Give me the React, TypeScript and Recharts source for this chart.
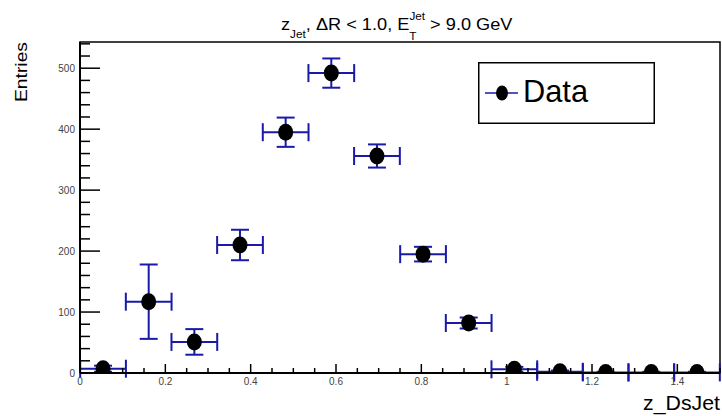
import React from "react";
import { ScatterChart, Scatter, XAxis, YAxis, ErrorBar, ReferenceArea, Legend } from "recharts";

const binCenters = [0.054, 0.161, 0.268, 0.375, 0.482, 0.589, 0.696, 0.804, 0.911, 1.018, 1.125, 1.232, 1.339, 1.446];
const entries = [7, 117, 51, 210, 395, 492, 356, 195, 82, 6, 2, 1, 1, 1];
const entryErrors = [5, 61, 21, 25, 24, 24, 19, 12, 9, 4, 2, 1, 1, 1];
const binHalfWidth = 0.0536;

const xTicks = [0, 0.05, 0.1, 0.15, 0.2, 0.25, 0.3, 0.35, 0.4, 0.45, 0.5, 0.55, 0.6, 0.65, 0.7, 0.75, 0.8, 0.85, 0.9, 0.95, 1, 1.05, 1.1, 1.15, 1.2, 1.25, 1.3, 1.35, 1.4, 1.45, 1.5];
const xLabels: Record<string, string> = { "0": "0", "0.2": "0.2", "0.4": "0.4", "0.6": "0.6", "0.8": "0.8", "1": "1", "1.2": "1.2", "1.4": "1.4" };
const yTicks = [0, 20, 40, 60, 80, 100, 120, 140, 160, 180, 200, 220, 240, 260, 280, 300, 320, 340, 360, 380, 400, 420, 440, 460, 480, 500, 520, 540];
const yLabels: Record<string, string> = { "0": "0", "100": "100", "200": "200", "300": "300", "400": "400", "500": "500" };

const data = binCenters.map((x, i) => ({ x, y: entries[i], ex: binHalfWidth, ey: entryErrors[i] }));

const FONT = '"Liberation Sans", Arial, Helvetica, sans-serif';
const BLUE = "#1a1aa6";

const XTick = (props: any) => {
  const { x, y, payload } = props;
  const v = payload.value;
  const key = String(Math.round(v * 100) / 100);
  const major = xLabels[key] !== undefined;
  return (
    <g>
      <line x1={x} x2={x} y1={y} y2={y - (major ? 9 : 5)} stroke="#000" strokeWidth={1.5} />
      {major && (
        <text x={x} y={y + 12} textAnchor="middle" fontSize={10} fontFamily={FONT} fill="#444">
          {xLabels[key]}
        </text>
      )}
    </g>
  );
};

const YTick = (props: any) => {
  const { x, y, payload } = props;
  const key = String(payload.value);
  const major = yLabels[key] !== undefined;
  return (
    <g>
      <line x1={x} x2={x + (major ? 20 : 10)} y1={y} y2={y} stroke="#000" strokeWidth={1.5} />
      {major && (
        <text x={x - 5} y={y + 3.5} textAnchor="end" fontSize={10} fontFamily={FONT} fill="#444">
          {yLabels[key]}
        </text>
      )}
    </g>
  );
};

const Marker = (props: any) => {
  const { cx, cy } = props;
  if (cx == null || cy == null) return null;
  return <ellipse cx={cx} cy={cy} rx={7.5} ry={8.5} fill="#000" />;
};

const LegendBox = () => (
  <svg width={177} height={62}>
    <rect x={0.75} y={0.75} width={175.5} height={60.5} fill="#fff" stroke="#000" strokeWidth={1.5} />
    <line x1={7} x2={40} y1={31} y2={31} stroke={BLUE} strokeWidth={1.5} />
    <ellipse cx={24} cy={31} rx={6} ry={7.5} fill="#000" />
    <text x={45} y={40} fontSize={32} fontFamily={FONT} fill="#000" textLength={65} lengthAdjust="spacingAndGlyphs">
      Data
    </text>
  </svg>
);

export default function App() {
  return (
    <div style={{ position: "absolute", left: 0, top: 0, width: 722, height: 416, background: "#fff" }}>
      <ScatterChart width={722} height={416} margin={{ top: 42, right: 2, bottom: 0, left: 0 }}>
        <XAxis
          type="number"
          dataKey="x"
          domain={[0, 1.5]}
          allowDataOverflow
          ticks={xTicks}
          interval={0}
          tickSize={0}
          tickMargin={0}
          height={43}
          tick={<XTick />}
          axisLine={{ stroke: "#000", strokeWidth: 2 }}
          tickLine={false}
        />
        <YAxis
          type="number"
          dataKey="y"
          domain={[0, 543]}
          allowDataOverflow
          ticks={yTicks}
          interval={0}
          tickSize={0}
          tickMargin={0}
          width={80}
          tick={<YTick />}
          axisLine={{ stroke: "#000", strokeWidth: 2 }}
          tickLine={false}
        />
        <ReferenceArea x1={0} x2={1.5} y1={0} y2={543} fill="none" stroke="#000" strokeWidth={1.5} ifOverflow="visible" />
        <Scatter data={data} dataKey="y" name="Data" isAnimationActive={false} shape={<Marker />}>
          <ErrorBar dataKey="ex" direction="x" width={9} stroke={BLUE} strokeWidth={2} isAnimationActive={false} />
          <ErrorBar dataKey="ey" direction="y" width={9} stroke={BLUE} strokeWidth={2} isAnimationActive={false} />
        </Scatter>
        <Legend
          layout="horizontal"
          verticalAlign="middle"
          align="center"
          content={() => <LegendBox />}
          wrapperStyle={{ left: 478, top: 62, width: 177, height: 62 }}
        />
      </ScatterChart>
      <svg width={722} height={416} style={{ position: "absolute", left: 0, top: 0, pointerEvents: "none" }}>
        <g transform="translate(281,29.5) scale(1.07,1)">
          <text x={0} y={0} fontSize={17} fontFamily={FONT} fill="#000">
            z
            <tspan fontSize={11} dy={8}>Jet</tspan>
            <tspan dy={-8}>, ΔR &lt; 1.0, E</tspan>
            <tspan fontSize={11} dy={-9.5}>Jet</tspan>
            <tspan fontSize={11} dx={-14.7} dy={20}>T</tspan>
            <tspan dx={8} dy={-10.5}> &gt; 9.0 GeV</tspan>
          </text>
        </g>
        <text
          transform="translate(27,42) rotate(-90)"
          textAnchor="end"
          fontSize={16}
          fontFamily={FONT}
          fill="#000"
          textLength={60}
          lengthAdjust="spacingAndGlyphs"
        >
          Entries
        </text>
        <text x={720} y={410} textAnchor="end" fontSize={21} fontFamily={FONT} fill="#000" textLength={77} lengthAdjust="spacingAndGlyphs">
          z_DsJet
        </text>
      </svg>
    </div>
  );
}
